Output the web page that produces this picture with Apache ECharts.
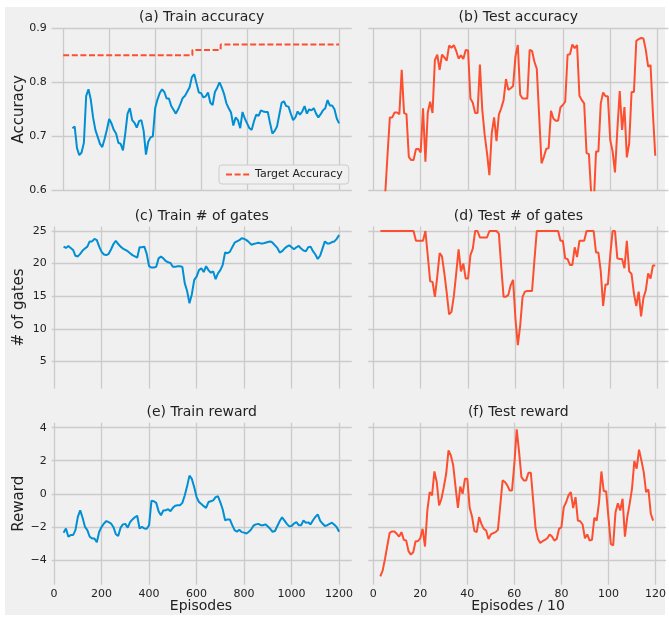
<!DOCTYPE html>
<html><head><meta charset="utf-8">
<script src="https://cdn.jsdelivr.net/npm/echarts@6/dist/echarts.min.js"></script>
<style>html,body{margin:0;padding:0;background:#fff}#c{width:669px;height:618px}</style>
</head><body><div id="c"></div>
<script>
// ---------- data ----------
const trainEpisodes = [40,50,60,70,80,90,100,110,120,130,140,150,160,170,180,190,200,210,220,230,240,250,260,270,280,290,300,310,320,330,340,350,360,370,380,390,400,410,420,430,440,450,460,470,480,490,500,510,520,530,540,550,560,570,580,590,600,610,620,630,640,650,660,670,680,690,700,710,720,730,740,750,760,770,780,790,800,810,820,830,840,850,860,870,880,890,900,910,920,930,940,950,960,970,980,990,1000,1010,1020,1030,1040,1050,1060,1070,1080,1090,1100,1110,1120,1130,1140,1150,1160,1170,1180,1190,1200];
const trainAccuracy = [0.715,0.718,0.678,0.665,0.670,0.688,0.775,0.787,0.768,0.735,0.712,0.699,0.686,0.680,0.695,0.712,0.732,0.724,0.712,0.705,0.688,0.686,0.674,0.705,0.742,0.752,0.730,0.725,0.716,0.728,0.730,0.710,0.666,0.690,0.698,0.700,0.752,0.768,0.780,0.787,0.782,0.770,0.770,0.756,0.749,0.742,0.750,0.760,0.771,0.775,0.783,0.791,0.810,0.815,0.798,0.781,0.780,0.772,0.774,0.781,0.762,0.758,0.782,0.790,0.800,0.790,0.778,0.761,0.752,0.744,0.720,0.735,0.730,0.715,0.745,0.733,0.724,0.715,0.712,0.728,0.740,0.738,0.748,0.746,0.745,0.745,0.724,0.705,0.710,0.718,0.740,0.762,0.765,0.756,0.755,0.742,0.730,0.735,0.746,0.740,0.746,0.756,0.742,0.750,0.748,0.752,0.742,0.735,0.741,0.748,0.752,0.767,0.757,0.757,0.750,0.733,0.724];
const trainGates = [22.6,22.4,22.7,22.4,22.1,21.2,21.1,21.5,22.0,22.3,22.6,23.4,23.4,23.8,23.6,22.6,21.8,21.4,21.3,21.5,22.2,23.0,23.5,23.0,22.6,22.3,22.1,21.9,21.6,21.3,21.1,20.9,22.5,22.5,22.6,21.5,19.6,19.4,19.4,19.5,20.8,21.1,20.8,20.4,20.2,20.1,19.5,19.5,19.6,19.6,19.5,17.0,15.8,13.9,15.3,17.5,18.0,19.0,19.3,18.7,19.6,19.0,18.6,18.8,17.6,18.5,19.0,19.8,21.7,21.6,21.8,22.5,23.2,23.4,23.6,23.9,23.8,23.6,23.3,22.9,23.0,23.1,23.2,23.1,23.1,23.2,23.3,23.4,23.2,22.8,22.4,21.7,21.9,22.3,22.6,22.8,22.5,22.2,22.5,22.7,22.3,22.0,21.9,22.5,22.6,21.9,21.4,20.7,21.2,22.3,23.4,23.1,23.1,23.3,23.4,23.8,24.4];
const trainReward = [-2.35,-2.1,-2.6,-2.5,-2.5,-2.2,-1.4,-1.0,-1.45,-2.0,-2.2,-2.6,-2.7,-2.7,-2.93,-2.3,-2.0,-1.8,-1.65,-1.72,-1.8,-2.02,-2.45,-2.55,-2.05,-1.85,-1.82,-2.05,-1.72,-1.55,-1.42,-1.33,-2.1,-2.0,-2.1,-2.12,-1.9,-0.42,-0.45,-0.55,-1.05,-1.3,-1.01,-1.0,-0.93,-1.05,-0.85,-0.72,-0.7,-0.7,-0.55,-0.1,0.45,1.1,0.9,0.4,-0.2,-0.5,-0.62,-0.75,-0.85,-0.5,-0.45,-0.4,-0.2,-0.15,-0.52,-0.95,-1.6,-1.55,-1.55,-1.9,-2.2,-2.3,-2.18,-2.32,-2.35,-2.4,-2.3,-2.15,-1.92,-1.85,-1.82,-1.9,-1.9,-1.85,-1.98,-2.12,-2.3,-2.25,-1.95,-1.65,-1.43,-1.62,-1.82,-1.97,-1.95,-1.8,-1.72,-1.9,-1.9,-1.62,-1.75,-1.73,-1.85,-1.6,-1.4,-1.25,-1.62,-1.8,-1.95,-1.9,-1.82,-1.75,-1.87,-2.02,-2.3];
const targetEpisodes = [0, 562, 685, 1200];
const targetAccuracy = [0.85, 0.86, 0.87, 0.87];

const testEpisodes = [3,4,5,6,7,8,9,10,11,12,13,14,15,16,17,18,19,20,21,22,23,24,25,26,27,28,29,30,31,32,33,34,35,36,37,38,39,40,41,42,43,44,45,46,47,48,49,50,51,52,53,54,55,56,57,58,59,60,61,62,63,64,65,66,67,68,69,70,71,72,73,74,75,76,77,78,79,80,81,82,83,84,85,86,87,88,89,90,91,92,93,94,95,96,97,98,99,100,101,102,103,104,105,106,107,108,109,110,111,112,113,114,115,116,117,118,119];
const testAccuracy = [0.45,0.52,0.59,0.665,0.735,0.735,0.744,0.744,0.741,0.823,0.743,0.741,0.662,0.656,0.656,0.676,0.677,0.670,0.752,0.653,0.744,0.764,0.743,0.841,0.851,0.823,0.851,0.846,0.840,0.868,0.864,0.869,0.858,0.844,0.850,0.843,0.860,0.859,0.770,0.762,0.743,0.743,0.833,0.749,0.703,0.669,0.628,0.706,0.735,0.691,0.740,0.752,0.767,0.806,0.786,0.789,0.793,0.848,0.869,0.777,0.770,0.770,0.770,0.860,0.858,0.838,0.825,0.738,0.650,0.662,0.677,0.678,0.747,0.733,0.729,0.729,0.754,0.758,0.764,0.851,0.852,0.870,0.863,0.869,0.775,0.767,0.761,0.669,0.667,0.59,0.57,0.672,0.672,0.761,0.781,0.774,0.774,0.693,0.672,0.633,0.712,0.784,0.712,0.754,0.661,0.687,0.782,0.782,0.877,0.880,0.882,0.881,0.860,0.829,0.832,0.743,0.664];
const testGates = [25,25,25,25,25,25,25,25,25,25,25,25,25,25,25,23.5,23.5,23.5,23.5,25,21.2,17.3,17.2,14.9,18.0,21.6,21.1,18.5,15.5,12.2,12.6,15.0,18.5,22.2,18.8,20.0,17.7,17.7,21.3,22.3,25,25,24,24,24,24,25,25,25,25,24.6,19.5,14.9,14.9,15.2,16.7,17.5,11.5,7.5,10.5,14.9,15.7,15.8,15.8,15.8,20.5,25,25,25,25,25,25,25,25,25,25,23.5,23.5,20.8,20.7,19.8,19.8,22.5,21.0,23.5,23.5,23.5,25,25,25,25,21.7,21.7,18.8,13.5,16.8,16.8,21.3,25,25,20.8,20.7,20.7,19.3,23.5,18.8,18.4,15.4,13.5,15.7,11.9,14.7,15.9,18.5,17.7,19.7,19.7];
const testReward = [-4.99,-4.65,-3.94,-3.13,-2.36,-2.28,-2.28,-2.42,-2.59,-2.32,-2.79,-2.83,-3.47,-3.68,-3.54,-2.87,-2.87,-2.69,-2.12,-3.19,-1.01,0.10,-0.10,1.35,0.71,-0.71,-0.30,0.40,1.21,2.63,2.32,1.72,0.40,-0.85,0.44,0.00,0.91,0.91,-0.85,-1.37,-2.26,-2.32,-1.41,-1.82,-2.12,-2.22,-2.73,-2.46,-2.38,-2.32,-2.18,-0.71,0.81,0.71,0.51,0.20,0.20,1.82,3.90,2.53,1.01,0.81,0.81,1.27,1.27,-0.40,-2.06,-2.73,-2.97,-2.87,-2.79,-2.69,-2.46,-2.59,-2.83,-2.73,-2.12,-2.02,-0.81,-0.51,-0.10,0.10,-0.87,-0.20,-1.62,-1.66,-1.86,-2.69,-2.46,-2.83,-2.79,-1.45,-1.62,-0.51,1.35,0.16,0.16,-1.41,-3.03,-3.13,-1.11,-0.57,-1.01,-0.30,-2.59,-1.41,-0.61,0.30,1.98,1.52,2.67,2.02,1.31,0.10,0.26,-1.21,-1.62];

const trainTicks = [0,200,400,600,800,1000,1200];
const testTicks = [0,20,40,60,80,100,120];
const accTicks = [0.6,0.7,0.8,0.9];
const gateTicks = [5,10,15,20,25];
const rewardTicks = [-4,-2,0,2,4];

const titles = ['(a) Train accuracy','(b) Test accuracy','(c) Train # of gates','(d) Test # of gates','(e) Train reward','(f) Test reward'];
const yNames = ['Accuracy','# of gates','Reward'];
const xNames = ['Episodes','Episodes / 10'];

// ---------- layout / style ----------
const FONT = 'DejaVu Sans';
const BLUE = '#008fd5', RED = '#fc4f30', GRID = '#cbcbcb', TXT = '#222222';
const colLeft = [51.7, 368.3], W = 300;
const rowTop = [28.3, 226.5, 422.7], H = 162;
const xRange = [[[-50,1255],[-2.1,124.5]],[[-10,1253],[-2.1,124.5]],[[-10,1253],[-2.1,124.5]]];
const yRange = [[0.6,0.9],[0.84,25.69],[-5.5,4.3]];
const yTicks = [accTicks, gateTicks, rewardTicks];
const xNameCenter = [201, 518];

const zip = (a,b) => a.map((v,i)=>[v,b[i]]);
const minus = v => String(v).replace('-', '\u2212');

const grids=[], xAxes=[], yAxes=[], graphics=[];
graphics.push({type:'rect', shape:{x:5,y:7,width:660,height:608}, style:{fill:'#f0f0f0'}, z:-10, silent:true});
for (let r=0;r<3;r++) for (let c=0;c<2;c++) {
  const i = r*2+c;
  grids.push({left:colLeft[c], top:rowTop[r], width:W, height:H, containLabel:false});
  const xt = c===0 ? trainTicks : testTicks;
  xAxes.push({type:'value', gridIndex:i, min:xRange[r][c][0], max:xRange[r][c][1],
    axisLine:{show:false}, axisTick:{show:false, customValues:xt},
    splitLine:{show:true, customValues:xt, lineStyle:{color:GRID, width:1.3}},
    axisLabel:{show:r===2, customValues:xt, margin:4, fontFamily:FONT, fontSize:11, color:TXT, formatter:v=>String(v)}});
  yAxes.push({type:'value', gridIndex:i, min:yRange[r][0], max:yRange[r][1],
    axisLine:{show:false}, axisTick:{show:false, customValues:yTicks[r]},
    splitLine:{show:true, customValues:yTicks[r], lineStyle:{color:GRID, width:1.3}},
    axisLabel:{show:c===0, customValues:yTicks[r], margin:5, fontFamily:FONT, fontSize:11, color:TXT, formatter:minus}});
  graphics.push({type:'text', x:colLeft[c]+W/2, y:rowTop[r]-10.5, style:{text:titles[i], font:'14px "DejaVu Sans"', fill:TXT, textAlign:'center', textVerticalAlign:'middle'}});
}
for (let r=0;r<3;r++) {
  graphics.push({type:'text', x:19, y:rowTop[r]+H/2, rotation:Math.PI/2, style:{text:yNames[r], font:'15px "DejaVu Sans"', fill:TXT, textAlign:'center', textVerticalAlign:'middle'}});
}
for (let c=0;c<2;c++) {
  graphics.push({type:'text', x:xNameCenter[c], y:606.5, style:{text:xNames[c], font:'14px "DejaVu Sans"', fill:TXT, textAlign:'center', textVerticalAlign:'middle'}});
}

const line = (name, xi, data, color, extra) => Object.assign({
  type:'line', name, xAxisIndex:xi, yAxisIndex:xi, data, showSymbol:false, symbol:'none',
  lineStyle:{color, width:2}, itemStyle:{color}, clip:true, animation:false, z:3}, extra||{});

const series = [
  line('Train accuracy', 0, zip(trainEpisodes, trainAccuracy), BLUE),
  line('Target Accuracy', 0, zip(targetEpisodes, targetAccuracy), RED, {step:'end', lineStyle:{color:RED, width:2, type:[6,2.6]}}),
  line('Test accuracy', 1, zip(testEpisodes, testAccuracy), RED),
  line('Train gates', 2, zip(trainEpisodes, trainGates), BLUE),
  line('Test gates', 3, zip(testEpisodes, testGates), RED),
  line('Train reward', 4, zip(trainEpisodes, trainReward), BLUE),
  line('Test reward', 5, zip(testEpisodes, testReward), RED),
];

const chart = echarts.init(document.getElementById('c'), null, {renderer:'canvas'});
chart.setOption({
  animation:false, backgroundColor:'#ffffff',
  grid:grids, xAxis:xAxes, yAxis:yAxes, series, graphic:graphics,
  legend:{data:[{name:'Target Accuracy', itemStyle:{opacity:0}}], left:219, top:165, padding:[4,6], itemWidth:24, itemHeight:10, itemGap:5,
    backgroundColor:'#f0f0f0', borderColor:'#cccccc', borderWidth:1, borderRadius:3,
    textStyle:{fontFamily:FONT, fontSize:11, color:TXT}}
});
</script></body></html>
